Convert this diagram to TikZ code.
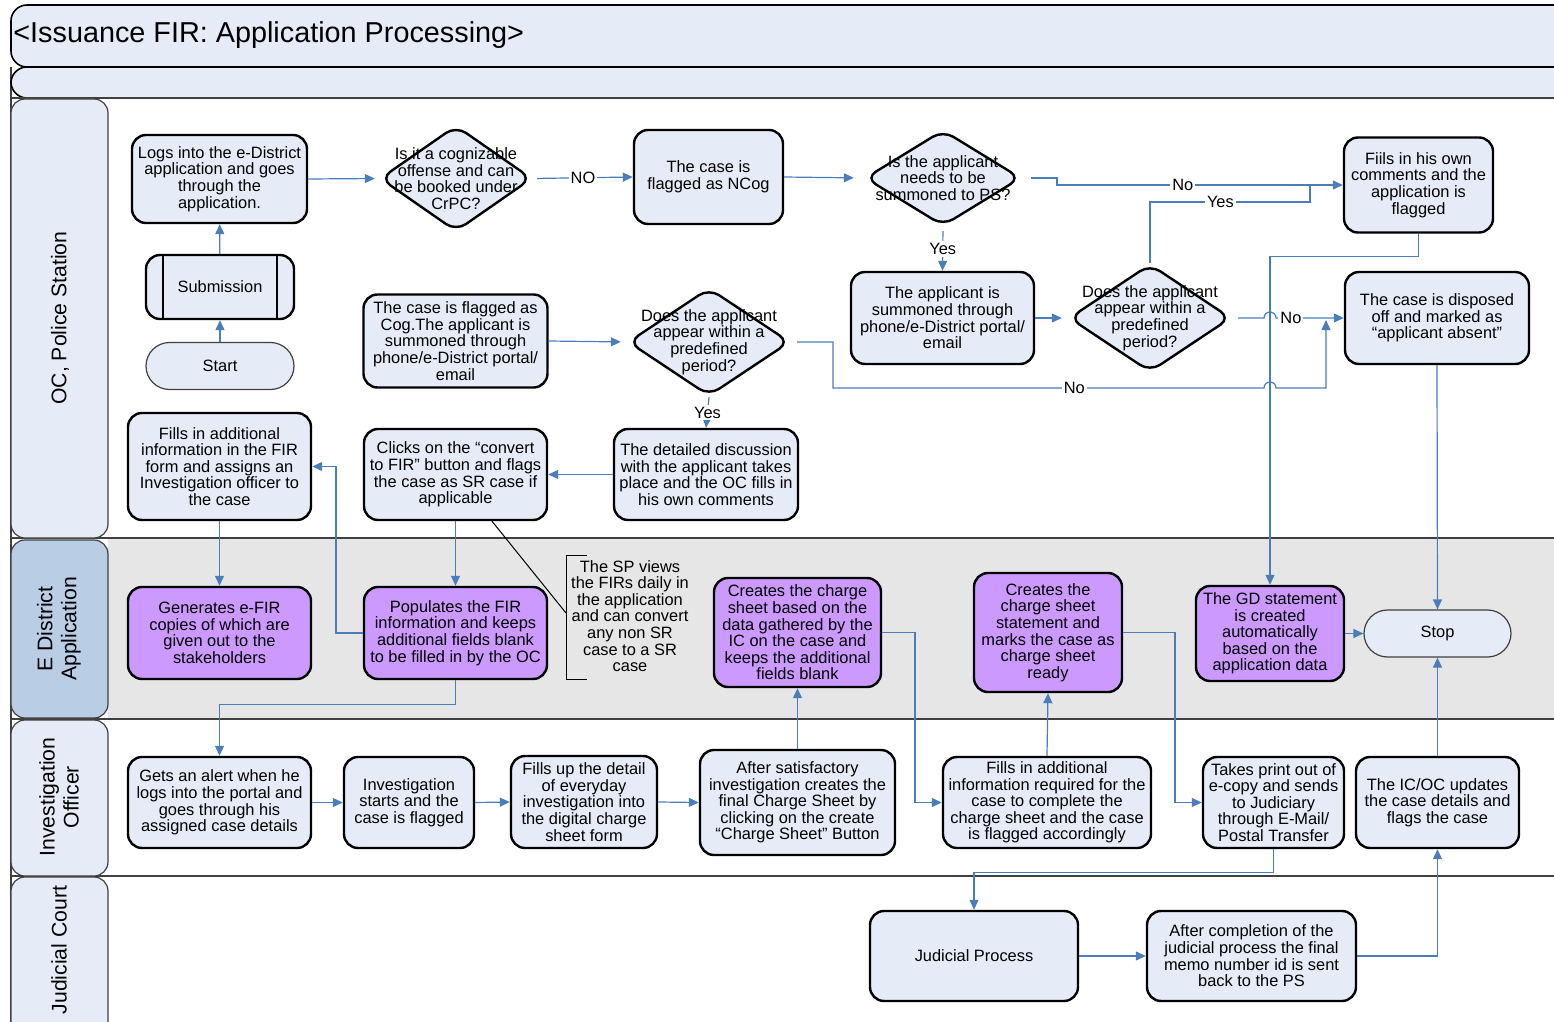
\documentclass[tikz,border=0pt]{standalone}
\usepackage{fontspec}
\setmainfont{Liberation Sans}
\usetikzlibrary{arrows.meta,shapes.geometric,calc}
\definecolor{paleblue}{HTML}{E5ECF7}
\definecolor{lanehead}{HTML}{B9CDE5}
\definecolor{lanegrey}{HTML}{E6E6E6}
\definecolor{purplebox}{HTML}{CC99FF}
\definecolor{lineblue}{HTML}{4A7EBB}
\definecolor{frame}{HTML}{404040}
\newcommand\bxfont{\fontsize{8.2}{8.3}\selectfont}
\begin{document}
\begin{tikzpicture}[x=0.5pt,y=-0.5pt,
  box/.style={draw=black, line width=1.2pt, rounded corners=7pt, fill=paleblue,
    align=center, inner sep=0pt, font=\bxfont},
  pbox/.style={box, fill=purplebox},
  dia/.style={diamond, draw=black, line width=1.2pt, rounded corners=6pt, fill=paleblue,
    inner sep=0pt},
  dtext/.style={align=center, inner sep=0pt, font=\bxfont},
  term/.style={draw=frame, line width=0.6pt, rounded corners=11.75pt, fill=paleblue,
    align=center, inner sep=0pt, font=\bxfont, minimum width=74pt, minimum height=23.5pt},
  lanelabel/.style={draw=frame, line width=0.6pt, rounded corners=7pt},
  lanetext/.style={rotate=90, align=center, font=\fontsize{10.6}{12}\selectfont},
  sep/.style={draw=frame, line width=0.9pt},
  flow/.style={draw=lineblue, line width=0.6pt, -{Triangle[length=5pt,width=4.5pt]}},
  plain/.style={draw=lineblue, line width=0.6pt},
  lbl/.style={fill=white, inner sep=1pt, font=\bxfont, text=black}]
\useasboundingbox (0,0) rectangle (1554,1022);

% ---------- swimlane frame ----------
\fill[lanegrey] (108,538) rectangle (1560,719);
\draw[sep] (11,538) -- (1560,538);
\draw[sep] (11,719) -- (1560,719);
\draw[sep] (11,876) -- (1560,876);
\draw[frame, line width=0.6pt] (11,67) -- (11,1030);

\draw[draw=black, line width=0.8pt, fill=paleblue, rounded corners=8pt]
  (1570,5) -- (11,5) -- (11,67) -- (1570,67);
\node[anchor=west, inner sep=0pt, font=\fontsize{14.4}{16}\selectfont] (title) at (13,35)
  {<Issuance FIR: Application Processing>};
\draw[draw=black, line width=0.8pt, fill=paleblue, rounded corners=8pt]
  (1570,67) -- (11,67) -- (11,98) -- (1570,98);
\draw[frame, line width=1.4pt] (11,98) -- (1560,98);

\draw[lanelabel, fill=paleblue] (11,99) rectangle (108,538);
\draw[lanelabel, fill=lanehead] (11,540) rectangle (108,718);
\draw[lanelabel, fill=paleblue] (11,720) rectangle (108,876);
\draw[lanelabel, fill=paleblue] (11,877) rectangle (108,1040);
\node[lanetext] (laneoc) at (60,318) {OC, Police Station};
\node[lanetext] (laneed) at (59,629) {E District\\Application};
\node[lanetext] (laneio) at (59,797) {Investigation\\Officer};
\node[lanetext] (lanejc) at (59,950) {Judicial Court};

% ---------- OC, Police Station ----------
\node[box, minimum width=87.5pt, minimum height=44pt] (logs) at (219.5,179)
  {Logs into the e-District\\application and goes\\through the\\application.};
\node[dia, minimum width=76pt, minimum height=53pt] (cogd) at (456,178.5) {};
\node[dtext] (cogdt) at (cogd) {Is it a cognizable\\offense and can\\be booked under\\CrPC?};
\node[box, minimum width=74.5pt, minimum height=47pt] (ncog) at (708.5,177)
  {The case is\\flagged as NCog};
\node[dia, minimum width=78pt, minimum height=48pt] (sumd) at (943,178) {};
\node[dtext] (sumdt) at (sumd) {Is the applicant\\needs to be\\summoned to PS?};
\node[box, minimum width=74.5pt, minimum height=47.5pt] (ownc) at (1418.5,185)
  {Fiils in his own\\comments and the\\application is\\flagged};

\node[box, minimum width=74pt, minimum height=32pt] (subm) at (220,287) {Submission};
\draw[black, line width=1.2pt] ([xshift=9pt]subm.north west) -- ([xshift=9pt]subm.south west);
\draw[black, line width=1.2pt] ([xshift=-9pt]subm.north east) -- ([xshift=-9pt]subm.south east);
\node[term] (start) at (220,366) {Start};

\node[box, minimum width=92pt, minimum height=46.5pt] (cog) at (455.5,341)
  {The case is flagged as\\Cog.The applicant is\\summoned through\\phone/e-District portal/\\email};
\node[dia, minimum width=81pt, minimum height=54pt] (ap1d) at (709,342) {};
\node[dtext] (ap1dt) at (ap1d) {Does the applicant\\appear within a\\predefined\\period?};
\node[box, minimum width=91.5pt, minimum height=46pt] (smnd) at (942.5,318)
  {The applicant is\\summoned through\\phone/e-District portal/\\email};
\node[dia, minimum width=81pt, minimum height=54pt] (ap2d) at (1150,318) {};
\node[dtext] (ap2dt) at (ap2d) {Does the applicant\\appear within a\\predefined\\period?};
\node[box, minimum width=92pt, minimum height=46pt] (disp) at (1437,318)
  {The case is disposed\\off and marked as\\“applicant absent”};

\node[box, minimum width=91.5pt, minimum height=53.5pt] (fadd) at (219.5,466.5)
  {Fills in additional\\information in the FIR\\form and assigns an\\Investigation officer to\\the case};
\node[box, minimum width=91.5pt, minimum height=45.5pt] (conv) at (455.5,474.5)
  {Clicks on the “convert\\to FIR” button and flags\\the case as SR case if\\applicable};
\node[box, minimum width=92pt, minimum height=45.5pt] (disc) at (706,474.5)
  {The detailed discussion\\with the applicant takes\\place and the OC fills in\\his own comments};

% ---------- E District Application ----------
\node[pbox, minimum width=91.5pt, minimum height=46pt] (gen) at (219.5,633)
  {Generates e-FIR\\copies of which are\\given out to the\\stakeholders};
\node[pbox, minimum width=91.5pt, minimum height=46pt] (pop) at (455.5,633)
  {Populates the FIR\\information and keeps\\additional fields blank\\to be filled in by the OC};
\node[dtext] (spnote) at (630,616)
  {The SP views\\the FIRs daily in\\the application\\and can convert\\any non SR\\case to a SR\\case};
\draw[black, line width=0.5pt] (587,555) -- (566,555) -- (566,679) -- (587,679);
\coordinate (spbr) at (566,613);
\node[pbox, minimum width=83.5pt, minimum height=54.5pt] (csb) at (797.5,632.5)
  {Creates the charge\\sheet based on the\\data gathered by the\\IC on the case and\\keeps the additional\\fields blank};
\node[pbox, minimum width=74pt, minimum height=59.5pt] (css) at (1048,632.5)
  {Creates the\\charge sheet\\statement and\\marks the case as\\charge sheet\\ready};
\node[pbox, minimum width=74pt, minimum height=47.5pt] (gd) at (1270,633.5)
  {The GD statement\\is created\\automatically\\based on the\\application data};
\node[term, minimum width=73.5pt] (stop) at (1437.5,633.5) {Stop};

% ---------- Investigation Officer ----------
\node[box, minimum width=91.5pt, minimum height=45.5pt] (alert) at (219.5,802.5)
  {Gets an alert when he\\logs into the portal and\\goes through his\\assigned case details};
\node[box, minimum width=65pt, minimum height=45.5pt] (istart) at (409,802.5)
  {Investigation\\starts and the\\case is flagged};
\node[box, minimum width=73pt, minimum height=46pt] (fillup) at (584,802)
  {Fills up the detail\\of everyday\\investigation into\\the digital charge\\sheet form};
\node[box, minimum width=97.5pt, minimum height=52.5pt] (after) at (797.5,802.5)
  {After satisfactory\\investigation creates the\\final Charge Sheet by\\clicking on the create\\“Charge Sheet” Button};
\node[box, minimum width=104pt, minimum height=45.5pt] (freq) at (1047,802.5)
  {Fills in additional\\information required for the\\case to complete the\\charge sheet and the case\\is flagged accordingly};
\node[box, minimum width=70.5pt, minimum height=45.5pt] (print) at (1273.5,802.5)
  {Takes print out of\\e-copy and sends\\to Judiciary\\through E-Mail/\\Postal Transfer};
\node[box, minimum width=81.5pt, minimum height=45.5pt] (icoc) at (1437.5,802.5)
  {The IC/OC updates\\the case details and\\flags the case};

% ---------- Judicial Court ----------
\node[box, minimum width=104pt, minimum height=45pt] (jud) at (974,956) {Judicial Process};
\node[box, minimum width=104.5pt, minimum height=45pt] (memo) at (1251.5,956)
  {After completion of the\\judicial process the final\\memo number id is sent\\back to the PS};

% ---------- connectors ----------
\draw[flow] (start) -- (subm);
\draw[flow] (subm) -- (logs);
\draw[flow, shorten >=2pt] (logs.east) -- (cogd.west);
\draw[flow, shorten <=2pt] (cogd.east) -- node[lbl, pos=0.5] {NO} (ncog.west);
\draw[flow, shorten >=5pt] (ncog.east) -- (sumd.west);
\draw[flow, shorten <=2pt] (sumd.south) -- node[lbl] {Yes} (smnd.north);

\coordinate (nojoin) at (1310,185);
\draw[flow] ([xshift=4.5pt]sumd.east) -- (1057,178) -- (1057,185) -- node[lbl, pos=0.44] {No} (ownc.west);
\draw[plain] (ap2d.north) -- (1150,202) -- node[lbl, pos=0.44] {Yes} (1310,202) -- (nojoin);

\draw[flow] (ownc.south) -- ++(0,23) -| (gd.north);
\draw[flow, shorten >=3pt] (smnd.east) -- (ap2d.west);
\draw[flow] ([xshift=3pt]ap2d.east) -- (1264,318) arc (180:0:3pt)
  -- node[lbl, pos=0.22] {No} (disp.west);
\coordinate (absent) at (1326,318);
\draw[flow] ([xshift=3pt]ap1d.east) -- (833,342) -- (833,388)
  -- node[lbl, pos=0.56] {No} (1264,388) arc (180:0:3pt) -- (1326,388) -- ([yshift=-1pt]absent);
\draw[flow] (disp.south) -- (stop.north);

\draw[flow, shorten >=3pt] (cog.east) -- (ap1d.west);
\draw[flow] (ap1d.south) -- node[lbl] {Yes} (disc.north);
\draw[flow] (disc.west) -- (conv.east);
\draw[flow] (conv.south) -- (pop.north);
\draw[black, line width=0.5pt] ($(conv.south)+(36.5,0)$) -- (spbr);
\draw[flow] (pop.west) -- (336,633) |- (fadd.east);
\draw[flow] (fadd.south) -- (gen.north);
\draw[flow] (pop.south) -- ++(0,24) -| (alert.north);

\draw[flow] (alert.east) -- (istart.west);
\draw[flow] (istart.east) -- (fillup.west);
\draw[flow] (fillup.east) -- (after.west);
\draw[flow] (after.north) -- (csb.south);
\draw[flow] (csb.east) -- (915,632.5) |- (freq.west);
\draw[flow] (freq.north) -- (css.south);
\draw[flow] (css.east) -- (1175,632.5) |- (print.west);
\draw[flow] (gd.east) -- (stop.west);

\draw[flow] (print.south) -- ++(0,23) -| (jud.north);
\draw[flow] (jud.east) -- (memo.west);
\draw[flow] (memo.east) -| (icoc.south);
\draw[flow] (icoc.north) -- (stop.south);
\end{tikzpicture}
\end{document}
